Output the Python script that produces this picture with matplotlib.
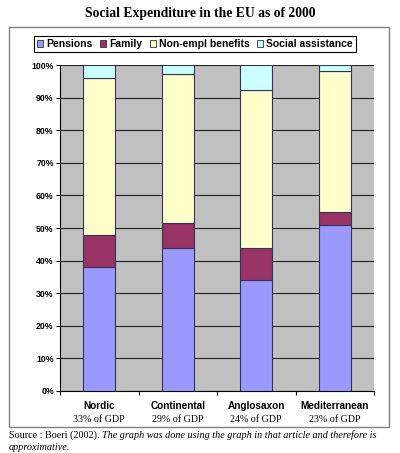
import matplotlib
matplotlib.use("Agg")
from matplotlib import pyplot as plt
from matplotlib.patches import Rectangle, Patch
from matplotlib import transforms
import numpy as np

# data (share of social expenditure, %)
regions = ["Nordic", "Continental", "Anglosaxon", "Mediterranean"]
gdp_labels = ["33% of GDP", "29% of GDP", "24% of GDP", "23% of GDP"]
pensions = [38.0, 44.0, 34.0, 50.8]
family = [10.0, 7.5, 10.0, 4.2]
non_empl = [48.0, 45.7, 48.3, 43.1]
social = [4.0, 2.8, 7.7, 1.9]
series_names = ["Pensions", "Family", "Non-empl benefits", "Social assistance"]
colors = ["#9999FF", "#993366", "#FFFFCC", "#CCFFFF"]

W, H = 400, 453
fig = plt.figure(figsize=(W / 100, H / 100), dpi=100)
fig.patch.set_facecolor("white")

def fx(px):
    return px / W

def fy(py):
    return 1 - py / H

# outer chart frame
fig.patches.append(Rectangle((fx(9), fy(427)), fx(389) - fx(9), fy(27) - fy(427),
                             transform=fig.transFigure, fill=False,
                             edgecolor="#808080", linewidth=1.0))

fig.text(0.5, fy(14), "Social Expenditure in the EU as of 2000", ha="center", va="center",
         family="Liberation Serif", fontweight="bold", fontsize=9.8)

ax = fig.add_axes([fx(60), fy(391), fx(374) - fx(60), fy(65) - fy(391)])
ax.set_facecolor("#C0C0C0")

x = np.arange(len(regions))
bottom = np.zeros(len(regions))
for vals, name, c in zip([pensions, family, non_empl, social], series_names, colors):
    ax.bar(x, vals, width=0.41, bottom=bottom, color=c, edgecolor="#333355",
           linewidth=0.8, label=name, zorder=3)
    bottom += np.array(vals)

ax.set_xlim(-0.5, 3.5)
ax.set_ylim(0, 100)
ax.set_yticks(np.arange(0, 101, 10))
ax.set_yticklabels([f"{v}%" for v in range(0, 101, 10)], family="Liberation Sans",
                   fontweight="bold", fontsize=6.3)
ax.yaxis.grid(True, color="#222222", linewidth=0.8, zorder=1)
ax.set_axisbelow(True)
ax.tick_params(axis="y", length=3, width=0.8, pad=1.5)
ax.set_xticks([-0.5, 0.5, 1.5, 2.5, 3.5])
ax.set_xticklabels([])
ax.tick_params(axis="x", length=3, width=0.8)
for s in ["top", "right"]:
    ax.spines[s].set_visible(False)
ax.spines["left"].set_linewidth(0.8)
ax.spines["bottom"].set_linewidth(0.8)

trans = transforms.blended_transform_factory(ax.transData, fig.transFigure)
for i, (r, g) in enumerate(zip(regions, gdp_labels)):
    ax.text(i, fy(406), r, transform=trans, ha="center", va="center",
            family="Liberation Sans", fontweight="bold", fontsize=7.2)
    ax.text(i, fy(420), g, transform=trans, ha="center", va="center",
            family="Liberation Serif", fontsize=7.2)

handles = [Patch(facecolor=c, edgecolor="#333333", linewidth=0.6) for c in colors]
leg = fig.legend(handles, series_names, loc="center", bbox_to_anchor=(fx(195), fy(44)),
                 ncol=4, prop={"family": "Liberation Sans", "weight": "bold", "size": 7.5},
                 handlelength=0.6, handleheight=0.6, handletextpad=0.3, columnspacing=0.7,
                 borderpad=0.25, fancybox=False, edgecolor="black", framealpha=1)
leg.get_frame().set_linewidth(0.8)

# source note: plain part then italic part on the same line
src = fig.text(fx(9), fy(435), "Source : Boeri (2002). ", ha="left", va="center",
               family="Liberation Serif", fontsize=7.3)
fig.canvas.draw()
bb = src.get_window_extent(renderer=fig.canvas.get_renderer())
fig.text(bb.x1 / W, fy(435), "The graph was done using the graph in that article and therefore is",
         ha="left", va="center", family="Liberation Serif", style="italic", fontsize=7.3)
fig.text(fx(9), fy(447), "approximative.", ha="left", va="center",
         family="Liberation Serif", style="italic", fontsize=7.3)

fig.savefig("out.png", dpi=100)
